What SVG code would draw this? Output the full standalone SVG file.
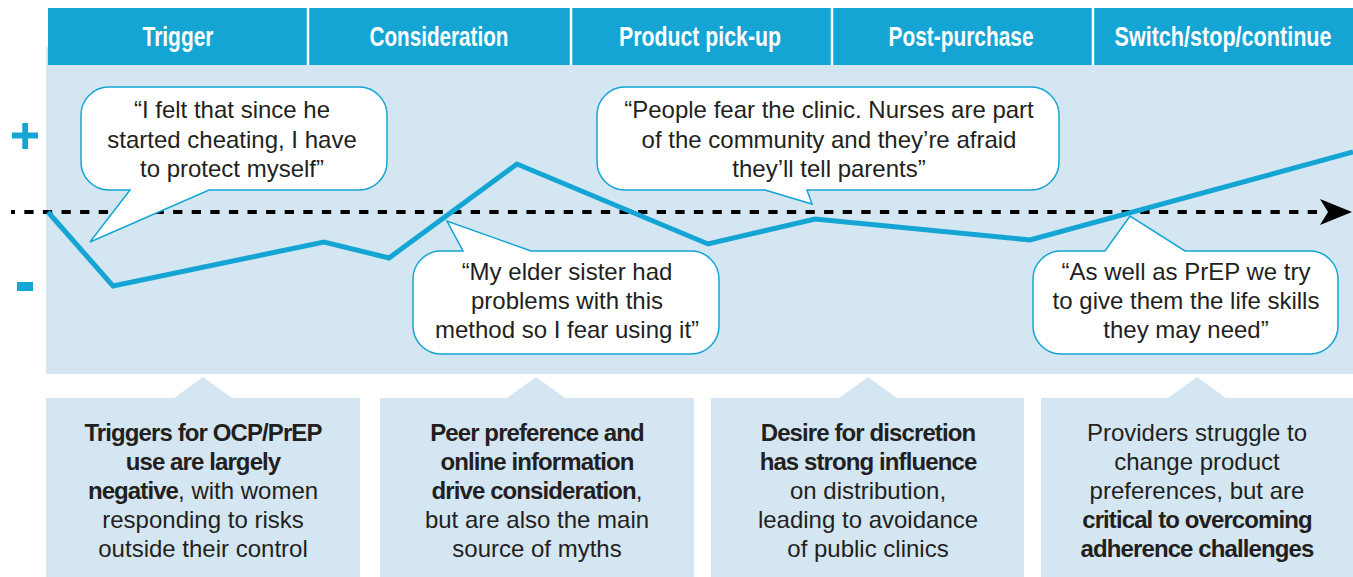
<svg xmlns="http://www.w3.org/2000/svg" width="1353" height="577" viewBox="0 0 1353 577">
<style>
.hdr{fill:#14a5d4}
.sep{stroke:#ffffff;stroke-width:2.5}
.htxt{font-family:"Liberation Sans Narrow","Liberation Sans",Arial,sans-serif;font-weight:bold;font-size:28px;fill:#ffffff;text-anchor:middle}
.panel{fill:#d4e6f2}
.bubble{fill:#ffffff;stroke:#14a5d4;stroke-width:1.5;stroke-linejoin:miter}
.btxt{font-family:"Liberation Sans",Arial,sans-serif;font-size:24px;fill:#231f20;text-anchor:middle}
.box{fill:#d4e6f2}
.xtxt{font-family:"Liberation Sans",Arial,sans-serif;font-size:24px;fill:#231f20;text-anchor:middle}
.b{font-weight:bold;letter-spacing:-0.9px}
.journey{fill:none;stroke:#14a5d4;stroke-width:5;stroke-linejoin:miter}
.axis{fill:none;stroke:#000000;stroke-width:4;stroke-dasharray:9.3 9.3;stroke-dashoffset:5.3}
.sign{fill:#14a5d4}
</style>

<rect class="panel" x="46" y="47" width="1307" height="327"/>

<g id="header">
  <rect class="hdr" x="48" y="8" width="1305" height="57"/>
  <line class="sep" x1="308" y1="8" x2="308" y2="65"/>
  <line class="sep" x1="571" y1="8" x2="571" y2="65"/>
  <line class="sep" x1="832" y1="8" x2="832" y2="65"/>
  <line class="sep" x1="1093" y1="8" x2="1093" y2="65"/>
  <text class="htxt" x="178" y="46" textLength="71" lengthAdjust="spacingAndGlyphs">Trigger</text>
  <text class="htxt" x="439" y="46" textLength="139" lengthAdjust="spacingAndGlyphs">Consideration</text>
  <text class="htxt" x="700" y="46" textLength="162" lengthAdjust="spacingAndGlyphs">Product pick-up</text>
  <text class="htxt" x="961" y="46" textLength="145" lengthAdjust="spacingAndGlyphs">Post-purchase</text>
  <text class="htxt" x="1223" y="46" textLength="217" lengthAdjust="spacingAndGlyphs">Switch/stop/continue</text>
</g>

<g id="axis-signs">
  <rect class="sign" x="12" y="132.5" width="26" height="6"/>
  <rect class="sign" x="22.3" y="123" width="5.7" height="26"/>
  <rect class="sign" x="17" y="282" width="16" height="9"/>
</g>

<g id="connectors">
  <path class="axis" d="M11 212 H1324"/>
  <polygon points="1320,199 1352,212 1320,225 1328,212" fill="#000000"/>
</g>

<g id="bubble-trigger">
  <path class="bubble" d="M109 87 H359 A28 28 0 0 1 387 115 V162 A28 28 0 0 1 359 190 H209 L90 242 L130 190 H109 A28 28 0 0 1 81 162 V115 A28 28 0 0 1 109 87 Z"/>
  <text class="btxt" x="232" y="118">“I felt that since he</text>
  <text class="btxt" x="232" y="147.5">started cheating, I have</text>
  <text class="btxt" x="232" y="177">to protect myself”</text>
</g>

<g id="bubble-consideration">
  <path class="bubble" d="M441 251 H463 L447 221 L531 251 H691 A28 28 0 0 1 719 279 V326 A28 28 0 0 1 691 354 H441 A28 28 0 0 1 413 326 V279 A28 28 0 0 1 441 251 Z"/>
  <text class="btxt" x="567" y="280">“My elder sister had</text>
  <text class="btxt" x="567" y="309">problems with this</text>
  <text class="btxt" x="567" y="338">method so I fear using it”</text>
</g>

<g id="bubble-pickup">
  <path class="bubble" d="M625 87 H1031 A28 28 0 0 1 1059 115 V162 A28 28 0 0 1 1031 190 H807 L812 204 L765 190 H625 A28 28 0 0 1 597 162 V115 A28 28 0 0 1 625 87 Z"/>
  <text class="btxt" x="829" y="118">“People fear the clinic. Nurses are part</text>
  <text class="btxt" x="829" y="147.5">of the community and they’re afraid</text>
  <text class="btxt" x="829" y="177">they’ll tell parents”</text>
</g>

<g id="bubble-switch">
  <path class="bubble" d="M1061 251 H1105 L1130 216 L1185 251 H1310 A28 28 0 0 1 1338 279 V326 A28 28 0 0 1 1310 354 H1061 A28 28 0 0 1 1033 326 V279 A28 28 0 0 1 1061 251 Z"/>
  <text class="btxt" x="1186" y="280">“As well as PrEP we try</text>
  <text class="btxt" x="1186" y="309">to give them the life skills</text>
  <text class="btxt" x="1186" y="338">they may need”</text>
</g>

<g id="journey-line">
  <polyline class="journey" points="48,212 113,286 324,242 389,258 517,164 708,244 815,219 1030,240 1353,152"/>
</g>

<g id="box-trigger">
  <path class="box" d="M46 398 H174 L203 377 L232 398 H360 V577 H46 Z"/>
  <text class="xtxt" x="203" y="441"><tspan class="b">Triggers for OCP/PrEP</tspan></text>
  <text class="xtxt" x="203" y="470"><tspan class="b">use are largely</tspan></text>
  <text class="xtxt" x="203" y="499"><tspan class="b">negative</tspan>, with women</text>
  <text class="xtxt" x="203" y="528">responding to risks</text>
  <text class="xtxt" x="203" y="557">outside their control</text>
</g>

<g id="box-consideration">
  <path class="box" d="M380 398 H507 L536 377 L565 398 H694 V577 H380 Z"/>
  <text class="xtxt" x="537" y="441"><tspan class="b">Peer preference and</tspan></text>
  <text class="xtxt" x="537" y="470"><tspan class="b">online information</tspan></text>
  <text class="xtxt" x="537" y="499"><tspan class="b">drive consideration</tspan>,</text>
  <text class="xtxt" x="537" y="528">but are also the main</text>
  <text class="xtxt" x="537" y="557">source of myths</text>
</g>

<g id="box-pickup">
  <path class="box" d="M711 398 H839 L868 377 L897 398 H1024 V577 H711 Z"/>
  <text class="xtxt" x="868" y="441"><tspan class="b">Desire for discretion</tspan></text>
  <text class="xtxt" x="868" y="470"><tspan class="b">has strong influence</tspan></text>
  <text class="xtxt" x="868" y="499">on distribution,</text>
  <text class="xtxt" x="868" y="528">leading to avoidance</text>
  <text class="xtxt" x="868" y="557">of public clinics</text>
</g>

<g id="box-switch">
  <path class="box" d="M1041 398 H1168 L1197 377 L1226 398 H1353 V577 H1041 Z"/>
  <text class="xtxt" x="1197" y="441">Providers struggle to</text>
  <text class="xtxt" x="1197" y="470">change product</text>
  <text class="xtxt" x="1197" y="499">preferences, but are</text>
  <text class="xtxt" x="1197" y="528"><tspan class="b">critical to overcoming</tspan></text>
  <text class="xtxt" x="1197" y="557"><tspan class="b">adherence challenges</tspan></text>
</g>
</svg>
